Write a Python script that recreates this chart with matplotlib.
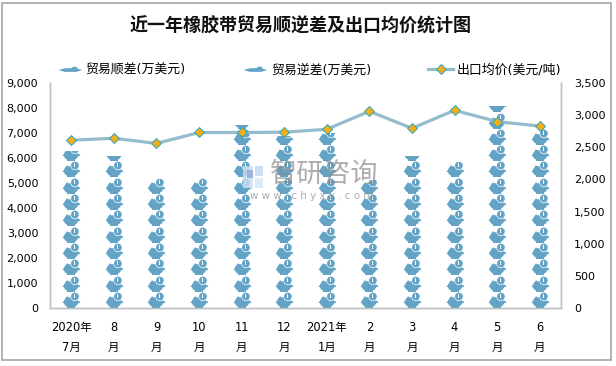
import matplotlib
matplotlib.use('Agg')
import matplotlib.pyplot as plt
from matplotlib.lines import Line2D
from matplotlib.patches import Rectangle
from matplotlib.path import Path
from matplotlib.ticker import FuncFormatter
from matplotlib.transforms import Affine2D

# values
months = ['2020年\n7月', '8\n月', '9\n月', '10\n月', '11\n月', '12\n月',
          '2021年\n1月', '2\n月', '3\n月', '4\n月', '5\n月', '6\n月']
surplus = [6300, 6070, 5180, 5260, 7310, 6900, 7000, 5140, 6100, 5850, 8100, 7150]
deficit = [0, 0, 0, 0, 0, 0, 0, 0, 0, 0, 0, 0]
price = [2610, 2640, 2560, 2730, 2730, 2735, 2780, 3060, 2795, 3075, 2900, 2830]
left_ticks = [0, 1000, 2000, 3000, 4000, 5000, 6000, 7000, 8000, 9000]
right_ticks = [0, 500, 1000, 1500, 2000, 2500, 3000, 3500]

title = '近一年橡胶带贸易顺逆差及出口均价统计图'
surplus_name = '贸易顺差(万美元)'
deficit_name = '贸易逆差(万美元)'
price_name = '出口均价(美元/吨)'

plt.rcParams['font.family'] = ['DejaVu Sans', 'Noto Sans CJK SC']

W, H = 616, 366
BLUE = '#63A4C6'
GREY = '#BFBFBF'
UNIT = 652  # value covered by one piggy bank


def px(x, y):
    return x / W, 1 - y / H


def poly(points):
    return Path(points + [points[0]], closed=True)


def blob(x, y, rx, ry):
    c = Path.unit_circle()
    return Path(Affine2D().scale(rx, ry).translate(x, y).transform(c.vertices), c.codes)


# piggy bank parts, in pixels around the centre of the icon
parts = [
    blob(-0.5, -1.8, 7.2, 5.2),
    poly([(-9, -2.6), (9, -2.6), (7.5, -0.2), (-7.5, -0.2)]),
    poly([(-4.5, -8), (4, -8), (4, -4), (-4.5, -4)]),
    poly([(-7.5, 0), (-4.5, 4.4), (0, 0)]),
]
ring = blob(3.4, 4.0, 4.6, 4.6)
coin = blob(3.4, 4.0, 3.9, 3.9)
dollar = poly([(2.6, 2.0), (4.2, 2.0), (4.2, 6.0), (2.6, 6.0)])


def marker_area(path):
    return (2 * abs(path.vertices).max() * 0.72) ** 2


def draw_icons(ax, xs, heights, bottoms, label):
    bars = ax.bar(xs, heights, 0.6, bottom=bottoms, facecolor='none',
                  edgecolor='none', label=label)
    layers = [(p, BLUE) for p in parts] + [(ring, 'white'), (coin, BLUE), (dollar, 'white')]
    for x, bar, h, b in zip(xs, bars, heights, bottoms):
        if h <= 0:
            continue
        n = int(h // UNIT) + 1
        ys = [b + (k + 0.5) * UNIT for k in range(n)]
        for part, col in layers:
            s = ax.scatter([x] * n, ys, marker=part, s=marker_area(part),
                           color=col, linewidths=0, zorder=3)
            s.set_clip_path(bar)


fig = plt.figure(figsize=(W / 100, H / 100), dpi=100)
ax = fig.add_axes([50 / W, 1 - 308 / H, 511 / W, 225 / H])
xs = list(range(len(months)))

draw_icons(ax, xs, surplus, [0] * len(xs), surplus_name)
draw_icons(ax, xs, deficit, surplus, deficit_name)

ax.set_xlim(-0.5, len(xs) - 0.5)
ax.set_ylim(0, 9000)
ax.set_yticks(left_ticks)
ax.yaxis.set_major_formatter(FuncFormatter(lambda v, _: f'{int(v):,}'))
ax.set_xticks(xs)
ax.set_xticklabels(months, linespacing=1.7)
ax.tick_params(axis='x', length=0, pad=9.5, labelsize=8.3, colors='black')
ax.tick_params(axis='y', length=0, pad=8.5, labelsize=8)

ax2 = ax.twinx()
ax2.plot(xs, price, color='#95BCCC', lw=2.3, marker='D', ms=5,
         mfc='#F0AE1A', mec='#2AA5BE', mew=0.7, zorder=4)
ax2.set_ylim(0, 3500)
ax2.set_yticks(right_ticks)
ax2.yaxis.set_major_formatter(FuncFormatter(lambda v, _: f'{int(v):,}'))
ax2.tick_params(axis='y', length=0, pad=9.5, labelsize=8)

for a in (ax, ax2):
    a.spines['top'].set_visible(False)
    for side in ('left', 'right', 'bottom'):
        a.spines[side].set_color(GREY)
        a.spines[side].set_linewidth(1)

# legend with the squashed picture of the icon
flat = poly([(-12, -0.5), (-6, 1.2), (1, 1.4), (3, 3), (7, 2.4), (7, 0.8), (12, -0.5),
             (6, -2.4), (-6, -2.4)])
handles = [
    Line2D([], [], ls='none', marker=flat, ms=17, color=BLUE, mew=0),
    Line2D([], [], ls='none', marker=flat, ms=17, color=BLUE, mew=0),
    Line2D([], [], color='#95BCCC', lw=2.3, marker='D', ms=5,
           mfc='#F0AE1A', mec='#2AA5BE', mew=0.7),
]
fig.legend(handles, [surplus_name, deficit_name, price_name], ncol=3, frameon=False,
           loc='center left', bbox_to_anchor=px(57, 70), fontsize=9.3,
           handlelength=1.95, handletextpad=0.25, columnspacing=4.4,
           borderaxespad=0, borderpad=0)

fig.text(*px(301, 26), title, ha='center', va='center', fontsize=13,
         fontweight='bold', color='#111111')

# watermark sits over the plot
fig.text(*px(270, 175), '智研咨询', ha='left', va='center', fontsize=19.5,
         color='#8A8A8A', alpha=0.7, zorder=6)
fig.text(*px(250, 196), 'w w w . c h y x x . c o m', ha='left', va='center',
         fontsize=7.4, color='#8A8A8A', alpha=0.7, zorder=6)
for x0, y0, w, h, col in [(243, 166, 10, 22, '#C9DDF0'), (255, 166, 8, 10, '#BFD8EE'),
                          (247, 170, 6, 8, '#8FA9D0'), (255, 178, 8, 10, '#D5E6F4')]:
    fig.add_artist(Rectangle((x0 / W, 1 - (y0 + h) / H), w / W, h / H,
                             transform=fig.transFigure, facecolor=col, edgecolor='none',
                             alpha=0.8, zorder=6))

# outer frame of the picture
fig.add_artist(Rectangle((2.5 / W, 1 - 360 / H), 608.5 / W, 357 / H,
                         transform=fig.transFigure, facecolor='none',
                         edgecolor='#A6A6A6', linewidth=1.2, zorder=7))

fig.savefig('out.png', dpi=100)
